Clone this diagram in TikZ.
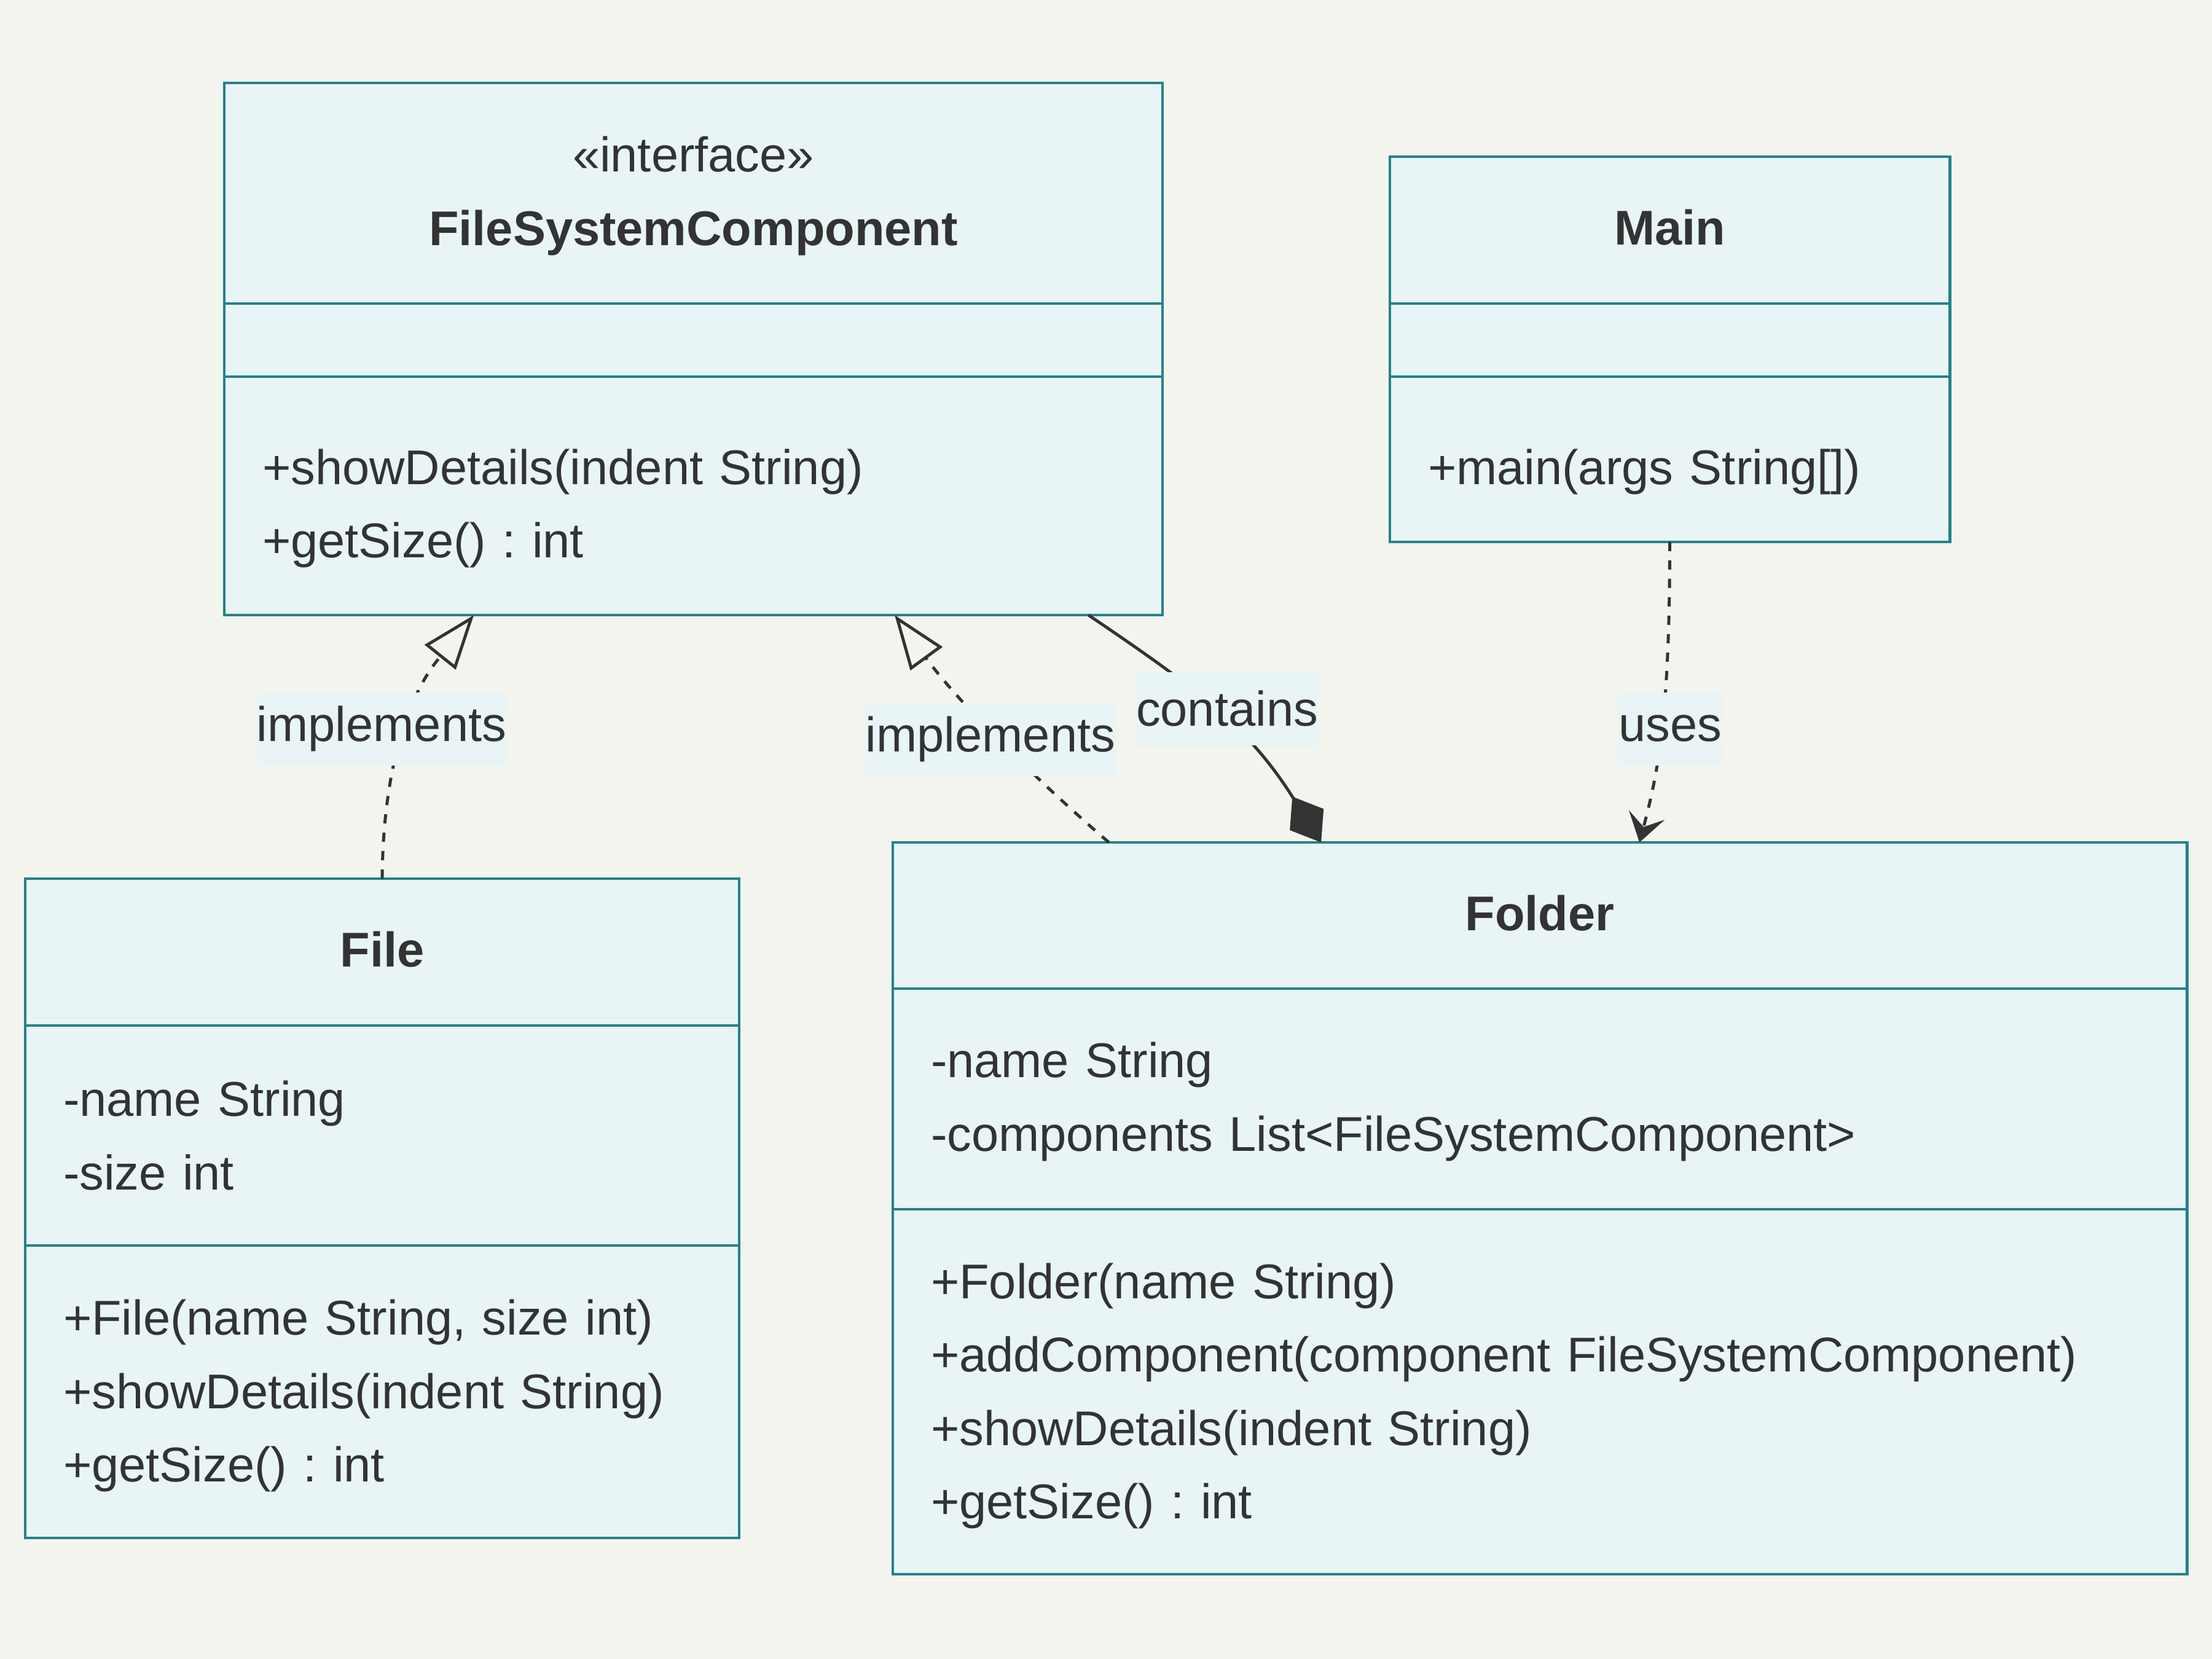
\documentclass[tikz,border=0pt]{standalone}
\usepackage{fontspec}
\setmainfont{Liberation Sans}
\frenchspacing
\usetikzlibrary{positioning,arrows.meta,calc}
\definecolor{bgcol}{HTML}{F3F4EE}
\definecolor{boxfill}{HTML}{E8F4F5}
\definecolor{boxline}{HTML}{23838A}
\definecolor{ink}{HTML}{333333}

\begin{document}
\begin{tikzpicture}
[font=\fontsize{22.6}{34}\selectfont,
every node/.style={text=ink, outer sep=0pt},
classbox/.style={draw=boxline, fill=boxfill, line width=1.4pt, inner xsep=0.62cm, inner ysep=0pt},
classhead/.style={classbox, align=center, anchor=north west},
classpart/.style={classbox, align=left},
edgelabel/.style={fill=boxfill, inner xsep=0pt, inner ysep=0pt, minimum height=1.19cm},
link/.style={draw=ink, line width=1.4pt},
realize/.style={link, dash pattern=on 0.15cm off 0.15cm, -{Triangle[open, length=0.88cm, width=0.64cm]}},
owns/.style={link, -{Diamond[length=0.88cm, width=0.65cm, fill=ink]}},
depends/.style={link, dash pattern=on 0.15cm off 0.15cm, -{Stealth[length=0.46cm, width=0.6cm, inset=0.2cm]}}]

\fill[bgcol] (0,0) rectangle (36,-27);

% interface
\node[classhead, text width=14.03cm, minimum height=3.59cm, text height=19pt] (fscHead) at (3.65,-1.35)
  {«interface»\\\textbf{FileSystemComponent}};
\node[classpart, text width=14.03cm, minimum height=1.19cm, below=0pt of fscHead] (fscAttr) {};
\node[classpart, text width=14.03cm, minimum height=3.88cm, text height=28.1pt, below=0pt of fscAttr] (fscOps)
  {+showDetails(indent String)\\+getSize() : int};

% main
\node[classhead, text width=7.87cm, minimum height=2.39cm, text depth=2.6pt] (mainHead) at (22.62,-2.55) {\textbf{Main}};
\node[classpart, text width=7.87cm, minimum height=1.19cm, below=0pt of mainHead] (mainAttr) {};
\node[classpart, text width=7.87cm, minimum height=2.69cm, text height=28.1pt, below=0pt of mainAttr] (mainOps)
  {+main(args String[])};

% file
\node[classhead, text width=10.38cm, minimum height=2.39cm, text depth=2.6pt] (fileHead) at (0.41,-14.30) {\textbf{File}};
\node[classpart, text width=10.38cm, minimum height=3.58cm, below=0pt of fileHead] (fileAttr)
  {-name String\\-size int};
\node[classpart, text width=10.38cm, minimum height=4.76cm, text height=20.2pt, below=0pt of fileAttr] (fileOps)
  {+File(name String, size int)\\+showDetails(indent String)\\+getSize() : int};

% folder
\node[classhead, text width=19.82cm, minimum height=2.38cm, text depth=2.6pt] (folderHead) at (14.53,-13.71) {\textbf{Folder}};
\node[classpart, text width=19.82cm, minimum height=3.59cm, text height=19pt, below=0pt of folderHead] (folderAttr)
  {-name String\\-components List<FileSystemComponent>};
\node[classpart, text width=19.82cm, minimum height=5.94cm, text height=20.2pt, below=0pt of folderAttr] (folderOps)
  {+Folder(name String)\\+addComponent(component FileSystemComponent)\\+showDetails(indent String)\\+getSize() : int};

\coordinate (fscFileTip) at ($(fscOps.south west)!0.266!(fscOps.south east)$);
\coordinate (fscFolderTip) at ($(fscOps.south west)!0.7145!(fscOps.south east)$);
\coordinate (fscOwner) at ($(fscOps.south west)!0.921!(fscOps.south east)$);
\coordinate (folderImpl) at ($(folderHead.north west)!0.167!(folderHead.north east)$);
\coordinate (folderPart) at ($(folderHead.north west)!0.331!(folderHead.north east)$);
\coordinate (folderUse) at ($(folderHead.north west)!0.577!(folderHead.north east)$);

\draw[realize] (fileHead.north) .. controls +(0.02,2.70) and +(-0.56,-0.70) .. (fscFileTip);
\draw[realize] (folderImpl) .. controls +(-1.29,1.11) and +(1.00,-1.37) .. (fscFolderTip);
\draw[owns] (fscOwner) .. controls +(1.82,-1.23) and +(-1.17,1.86) .. (folderPart);
\draw[depends] (mainOps.south) .. controls +(0,-2.8) and +(0.31,1.16) .. (folderUse);

\node[edgelabel] (lblFile) at (6.21,-11.86) {implements};
\node[edgelabel] (lblFolder) at (16.12,-12.03) {implements};
\node[edgelabel] (lblContains) at (19.97,-11.53) {contains};
\node[edgelabel] (lblUses) at (27.18,-11.86) {uses};
\end{tikzpicture}
\end{document}
